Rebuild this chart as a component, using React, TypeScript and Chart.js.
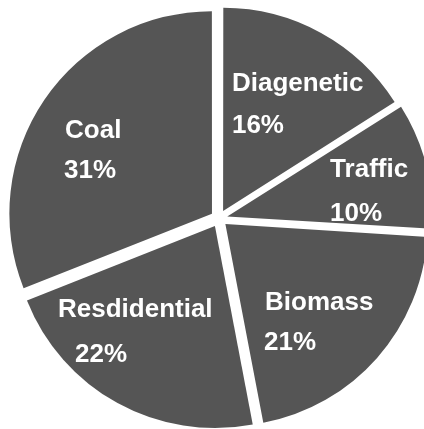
import React, { useEffect, useRef } from "react";
import { Chart, registerables } from "chart.js";

Chart.register(...registerables);

// Source apportionment shares (percent)
const sources = ["Diagenetic", "Traffic", "Biomass", "Resdidential", "Coal"];
const shares = [16, 10, 21, 22, 31];

// Label anchors (left edge / baseline) relative to the pie centre, in units of the outer radius
const nameAnchors = [
  [0.064, -0.631],
  [0.55, -0.205],
  [0.228, 0.453],
  [-0.797, 0.488],
  [-0.762, -0.398],
];
const valueAnchors = [
  [0.064, -0.423],
  [0.55, 0.012],
  [0.223, 0.651],
  [-0.713, 0.71],
  [-0.767, -0.2],
];

const SLICE_COLOR = "#555555";
const SLICE_OFFSET = 34;

const sliceLabels = {
  id: "sliceLabels",
  afterDatasetsDraw(chart: any) {
    const ctx = chart.ctx;
    const meta = chart.getDatasetMeta(0);
    meta.data.forEach((arc: any, i: number) => {
      const { x, y, startAngle, endAngle, outerRadius } = arc;
      const half = (startAngle + endAngle) / 2;
      const shift = SLICE_OFFSET / 4;
      const ox = x + Math.cos(half) * shift;
      const oy = y + Math.sin(half) * shift;
      ctx.save();
      // keep the text inside its own slice
      ctx.beginPath();
      ctx.moveTo(ox, oy);
      ctx.arc(ox, oy, outerRadius, startAngle, endAngle);
      ctx.closePath();
      ctx.clip();
      ctx.fillStyle = "#ffffff";
      ctx.font = 'bold 26px "Liberation Sans", Arial, sans-serif';
      ctx.textAlign = "left";
      ctx.textBaseline = "alphabetic";
      const [nx, ny] = nameAnchors[i];
      const [vx, vy] = valueAnchors[i];
      ctx.fillText(sources[i], x + nx * outerRadius, y + ny * outerRadius);
      ctx.fillText(`${shares[i]}%`, x + vx * outerRadius, y + vy * outerRadius);
      ctx.restore();
    });
  },
};

export default function App() {
  const canvasRef = useRef<HTMLCanvasElement | null>(null);

  useEffect(() => {
    if (!canvasRef.current) return;
    const chart = new Chart(canvasRef.current, {
      type: "pie",
      data: {
        labels: sources,
        datasets: [
          {
            data: shares,
            backgroundColor: SLICE_COLOR,
            borderWidth: 0,
            offset: SLICE_OFFSET,
            hoverOffset: SLICE_OFFSET,
            clip: false,
          } as any,
        ],
      },
      options: {
        responsive: false,
        animation: false,
        radius: 202,
        layout: { padding: { left: 14, right: 0, top: 8, bottom: 0 } },
        plugins: {
          legend: { display: false },
          tooltip: { enabled: false },
          title: { display: false },
        },
        events: [],
      } as any,
      plugins: [sliceLabels],
    });
    return () => chart.destroy();
  }, []);

  return (
    <div style={{ position: "absolute", left: 0, top: 0, width: 424, height: 429, background: "#ffffff" }}>
      <canvas ref={canvasRef} width={424} height={429} style={{ display: "block" }} />
    </div>
  );
}
